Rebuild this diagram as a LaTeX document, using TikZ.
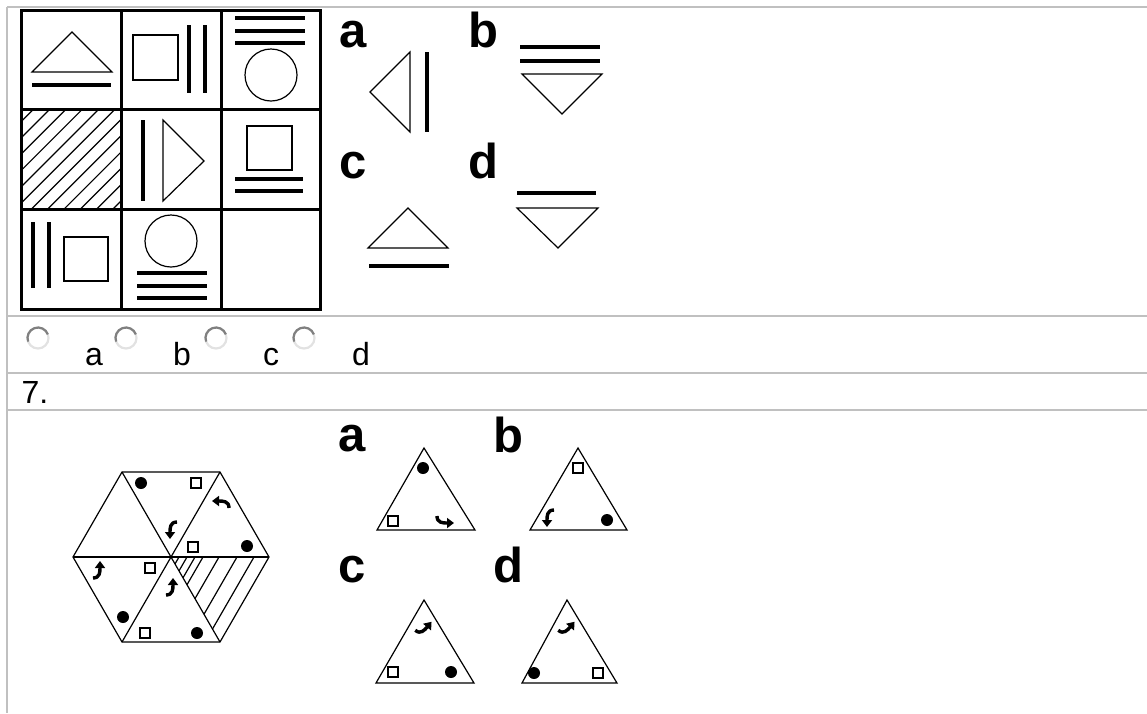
\documentclass[tikz,border=0pt]{standalone}
\usepackage{fontspec}
\setmainfont{Liberation Sans}
\usepackage{tikz}
\usetikzlibrary{arrows.meta}
\definecolor{rulegray}{HTML}{C0C0C0}
\definecolor{radiodark}{HTML}{808080}
\definecolor{radiolight}{HTML}{E2E2E2}
\tikzset{
  rule/.style={rulegray,line width=1.5pt},
  cell/.style={black,line width=3pt},
  fine/.style={black,line width=1.2pt},
  bar/.style={black,line width=3.2pt},
  optlbl/.style={font=\fontsize{49}{49}\selectfont\bfseries,anchor=base west,inner sep=0pt},
  plain/.style={font=\fontsize{32}{32}\selectfont,anchor=base west,inner sep=0pt},
  hook/.style={-{Triangle[length=7pt,width=10pt]},line width=3.4pt}
}
\newcommand{\hookat}[3]{\draw[hook,shift={(#1,#2)},rotate=#3] (-6,8) .. controls (1,8) and (1,2) .. (1,-9);}
\newcommand{\bdot}[2]{\fill (#1,#2) circle (6);}
\newcommand{\wsq}[2]{\draw[fine,line width=1.4pt] ({#1-5},{#2-5}) rectangle ++(10,10);}

\begin{document}
\begin{tikzpicture}[x=1pt,y=-1pt]
\useasboundingbox (0,0) rectangle (1147,713);
% table rules
\draw[rule] (7,7) -- (7,713);
\foreach \ry in {7,316,373,410} \draw[rule] (7,\ry) -- (1147,\ry);

% 3x3 matrix
\draw[cell] (21,10) rectangle (320,309);
\draw[cell] (121,10) -- (121,309);
\draw[cell] (221,10) -- (221,309);
\draw[cell] (21,109) -- (320,109);
\draw[cell] (21,209) -- (320,209);
\draw[fine] (32,72) -- (72,32) -- (112,72) -- cycle;
\draw[bar] (32,85) -- (111,85);
\draw[fine] (133,35) rectangle (178,80);
\draw[bar] (189,25) -- (189,93);
\draw[bar] (205,25) -- (205,93);
\foreach \yy in {18,31,43} \draw[bar] (235,\yy) -- (305,\yy);
\draw[fine] (271,75) circle (26);
\begin{scope}
  \clip (21,109) rectangle (121,209);
  \foreach \k in {0,...,13} \draw[fine] ({17.4+16.3*\k},109) -- ++(-110,110);
\end{scope}
\draw[bar] (143,120) -- (143,201);
\draw[fine] (163,120) -- (204,161) -- (163,201) -- cycle;
\draw[fine] (247,126) rectangle (292,170);
\draw[bar] (235,179) -- (303,179);
\draw[bar] (235,191) -- (303,191);
\draw[bar] (33,222) -- (33,288);
\draw[bar] (49,222) -- (49,288);
\draw[fine] (64,237) rectangle (108,281);
\draw[fine] (171,241) circle (26);
\foreach \yy in {273,286,298} \draw[bar] (137,\yy) -- (207,\yy);

% answers, first puzzle
\node[optlbl] (qa) at (339,47) {a};
\node[optlbl] (qb) at (468,47) {b};
\node[optlbl] (qc) at (339,178) {c};
\node[optlbl] (qd) at (468,178) {d};
\draw[fine] (410,52) -- (370,92) -- (410,132) -- cycle;
\draw[bar] (427,52) -- (427,132);
\draw[bar] (520,47) -- (600,47);
\draw[bar] (520,61) -- (600,61);
\draw[fine] (522,74) -- (602,74) -- (562,114) -- cycle;
\draw[fine] (368,248) -- (408,208) -- (448,248) -- cycle;
\draw[bar] (369,266) -- (449,266);
\draw[bar] (517,193) -- (596,193);
\draw[fine] (517,208) -- (598,208) -- (558,248) -- cycle;

% radio row
\foreach \rx in {38,126,216,304} {
  \draw[radiolight,line width=2.2pt] (\rx,338) circle (10.5);
  \draw[radiodark,line width=2.2pt] (\rx,338) ++(-20:10.5) arc[start angle=-20,end angle=-200,radius=10.5];
}
\node[plain] (ra) at (85,365) {a};
\node[plain] (rb) at (173,365) {b};
\node[plain] (rc) at (263,365) {c};
\node[plain] (rd) at (352,365) {d};
\node[plain] (num) at (21.5,403) {7.};

% hexagon
\draw[fine] (73,557) -- (122,472) -- (220,472) -- (269,557) -- (220,642) -- (122,642) -- cycle;
\draw[fine] (73,557) -- (269,557);
\draw[fine] (122,472) -- (220,642);
\draw[fine] (220,472) -- (122,642);
\foreach \h in {179,187,195,203,219,237,254}
  \draw[fine] (\h,557) -- ({(\h+171)/2},{557+0.867*(\h-171)});
\bdot{141}{483} \wsq{196}{483} \hookat{171}{530}{180}
\hookat{221}{502}{90} \wsq{193}{547} \bdot{247}{546}
\hookat{99}{570}{0} \wsq{150}{568} \bdot{123}{617}
\hookat{172}{587}{0} \wsq{145}{633} \bdot{197}{633}

% answers, second puzzle
\node[optlbl] (ta) at (338,451) {a};
\node[optlbl] (tb) at (493,452) {b};
\node[optlbl] (tc) at (338,582) {c};
\node[optlbl] (td) at (493,582) {d};
\draw[fine] (377,530) -- (424,448) -- (475,530) -- cycle;
\bdot{423}{468} \wsq{393}{521} \hookat{445}{522}{-90}
\draw[fine] (530,530) -- (578,448) -- (627,530) -- cycle;
\wsq{578}{468} \bdot{607}{520} \hookat{548}{518}{180}
\draw[fine] (376,683) -- (424,600) -- (474,683) -- cycle;
\hookat{425}{628}{-40} \wsq{393}{672} \bdot{451}{672}
\draw[fine] (522,683) -- (567,600) -- (617,683) -- cycle;
\hookat{568}{628}{-40} \bdot{534}{673} \wsq{598}{673}
\end{tikzpicture}
\end{document}
